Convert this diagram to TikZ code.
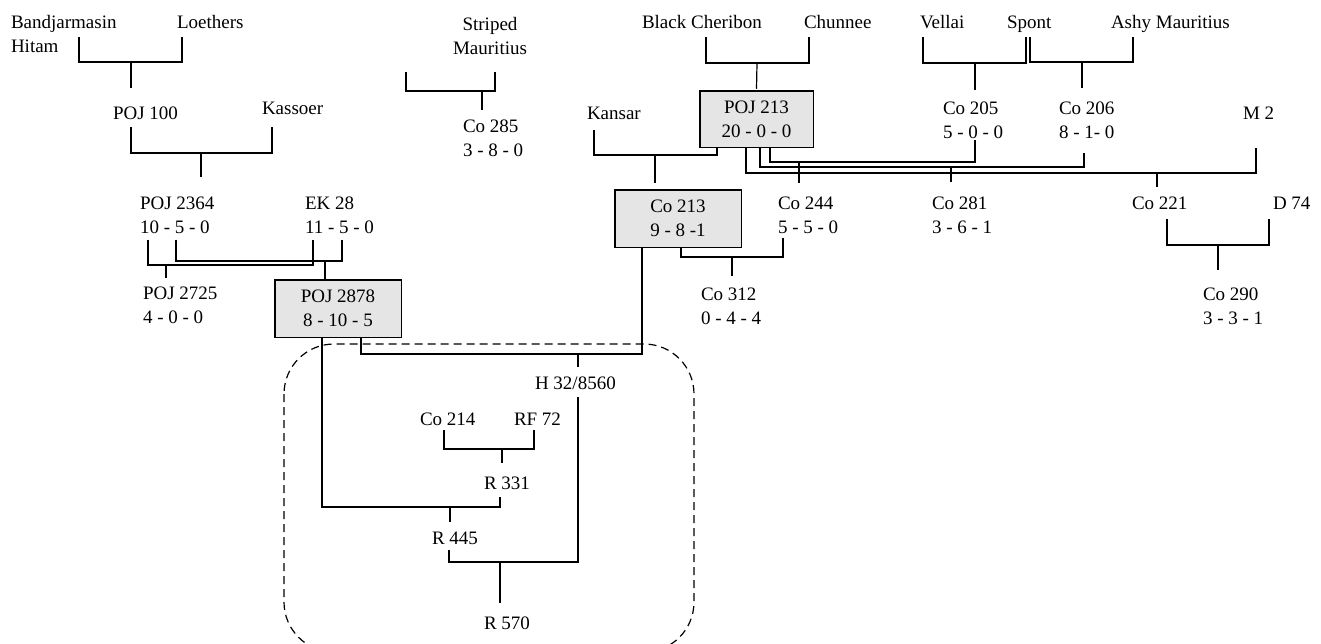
\documentclass[tikz,border=0pt]{standalone}
\usepackage{fontspec}
\setmainfont{Liberation Serif}
\usepackage{tikz}

\begin{document}
\begin{tikzpicture}[x=1pt, y=-1pt,
					font=\fontsize{19}{24}\selectfont,
					line width=1.2pt,
					name node/.style={inner sep=0pt, outer sep=0pt, anchor=west,
						text height=13pt, text depth=4pt},
					pair node/.style={inner sep=0pt, outer sep=0pt, anchor=west, align=left},
					box node/.style={draw, fill=gray!20, line width=1.5pt, inner sep=0pt,
						outer sep=0pt, align=center},
					link/.style={line width=1.2pt},
					seedling frame/.style={dash pattern=on 8pt off 5pt, line width=1.2pt,
						rounded corners=50pt}]
  \useasboundingbox (0,0) rectangle (1321,643);

  % founders
  \node[pair node] (bh) at (11,33.5) {Bandjarmasin\\Hitam};
  \node[name node] (lo) at (177,24) {Loethers};
  \node[inner sep=0pt, outer sep=0pt, align=center] (sm) at (490,35.5) {Striped\\Mauritius};
  \node[name node] (bc) at (642,24) {Black Cheribon};
  \node[name node] (ch) at (804,24) {Chunnee};
  \node[name node] (ve) at (920,24) {Vellai};
  \node[name node] (sp) at (1007,24) {Spont};
  \node[name node] (ash) at (1111,24) {Ashy Mauritius};

  % second row
  \node[name node] (p100) at (113,115) {POJ 100};
  \node[name node] (kas) at (262,110) {Kassoer};
  \node[pair node] (s285) at (463,138.5) {Co 285\\3 - 8 - 0};
  \node[name node] (kan) at (587,115) {Kansar};
  \node[box node, minimum width=113.5pt, minimum height=56.5pt] (p213) at (756.5,119) {POJ 213\\20 - 0 - 0};
  \node[pair node] (c205) at (943,120) {Co 205\\5 - 0 - 0};
  \node[pair node] (c206) at (1059,120) {Co 206\\8 - 1- 0};
  \node[name node] (m2) at (1243,115) {M 2};

  % third row
  \node[pair node] (p2364) at (140,215) {POJ 2364\\10 - 5 - 0};
  \node[pair node] (ek) at (305,215) {EK 28\\11 - 5 - 0};
  \node[box node, minimum width=126.5pt, minimum height=57.5pt] (c213) at (678,218.5) {Co 213\\9 - 8 -1};
  \node[pair node] (c244) at (778,215) {Co 244\\5 - 5 - 0};
  \node[pair node] (c281) at (932,215) {Co 281\\3 - 6 - 1};
  \node[name node] (c221) at (1132,205) {Co 221};
  \node[name node] (d74) at (1273,205) {D 74};

  % fourth row
  \node[pair node] (p2725) at (143,305.5) {POJ 2725\\4 - 0 - 0};
  \node[box node, minimum width=126.5pt, minimum height=57.5pt] (p2878) at (338,308.5) {POJ 2878\\8 - 10 - 5};
  \node[pair node] (c312) at (701,306) {Co 312\\0 - 4 - 4};
  \node[pair node] (c290) at (1203,306) {Co 290\\3 - 3 - 1};

  % seedlings
  \node[name node] (h32) at (535,385) {H 32/8560};
  \node[name node] (c214) at (420,421) {Co 214};
  \node[name node] (rf72) at (514,421) {RF 72};
  \node[name node] (r331) at (484,485) {R 331};
  \node[name node] (r445) at (432,540) {R 445};
  \node[name node] (r570) at (484,625) {R 570};

  % crossing bars
  \coordinate (x100) at (131,62);
  \coordinate (x2364) at (201,153);
  \coordinate (x2725) at (166,265);
  \coordinate (x2878) at (325,261);
  \coordinate (unk) at (406,72);
  \coordinate (x285) at (482,91);
  \coordinate (x213p) at (757,63);
  \coordinate (x213c) at (655,155);
  \coordinate (x205) at (975,63);
  \coordinate (x206) at (1082,62);
  \coordinate (x244) at (799,162);
  \coordinate (x281) at (951,167);
  \coordinate (x221) at (1157,173);
  \coordinate (x290) at (1218,245);
  \coordinate (x312) at (732,257);
  \coordinate (xh32) at (578,354);
  \coordinate (x331) at (502,449);
  \coordinate (x445) at (450,507);
  \coordinate (x570) at (500,562);

  \draw[link] ([xshift=68pt,yshift=15pt]bh.south west) |- (x100) -| ([xshift=5pt,yshift=-4.5pt]lo.south west);
  \draw[link] (x100) -- ([xshift=18pt,yshift=18.5pt]p100.north west);

  \draw[link] ([xshift=18pt,yshift=-3.5pt]p100.south west) |- (x2364) -| ([xshift=10pt,yshift=-8.5pt]kas.south west);
  \draw[link] (x2364) -- ([xshift=61pt,yshift=19.5pt]p2364.north west);

  \draw[link] ([xshift=8pt,yshift=-6.5pt]p2364.south west) |- (x2725) -| ([xshift=8pt,yshift=-6.5pt]ek.south west);
  \draw[link] (x2725) -- ([xshift=23pt,yshift=9pt]p2725.north west);

  \draw[link] ([xshift=36pt,yshift=-6.5pt]p2364.south west) |- (x2878) -| ([xshift=37pt,yshift=-6.5pt]ek.south west);
  \draw[link] (x2878) -- ([xshift=-13pt]p2878.north);

  \draw[link] (unk) |- (x285) -| ([xshift=5pt,yshift=-18pt]sm.south);
  \draw[link] (x285) -- ([xshift=19pt,yshift=10pt]s285.north west);

  \draw[link] ([xshift=64pt,yshift=-4.5pt]bc.south west) |- (x213p) -| ([xshift=5pt,yshift=-4.5pt]ch.south west);
  \draw[link] (x213p) -- ([yshift=2pt]p213.north);

  \draw[link] ([xshift=7pt,yshift=-6.5pt]kan.south west) |- (x213c) -| ([xshift=-39.5pt]p213.south);
  \draw[link] (x213c) -- ([xshift=-23pt,yshift=7pt]c213.north);

  \draw[link] ([xshift=3pt,yshift=-4.5pt]ve.south west) |- (x205) -| ([xshift=19pt,yshift=-4.5pt]sp.south west);
  \draw[link] (x205) -- ([xshift=32pt,yshift=11.5pt]c205.north west);

  \draw[link] ([xshift=23pt,yshift=-4.5pt]sp.south west) |- (x206) -| ([xshift=22pt,yshift=-4.5pt]ash.south west);
  \draw[link] (x206) -- ([xshift=23pt,yshift=13.5pt]c206.north west);

  \draw[link] ([xshift=13.5pt]p213.south) |- (x244) -| ([xshift=32pt,yshift=-1.5pt]c205.south west);
  \draw[link] (x244) -- ([xshift=21pt,yshift=13.5pt]c244.north west);

  \draw[link] ([xshift=3.5pt]p213.south) |- (x281) -| ([xshift=25pt,yshift=-14.5pt]c206.south west);
  \draw[link] (x281) -- ([xshift=19pt,yshift=14.5pt]c281.north west);

  \draw[link] ([xshift=-10.5pt]p213.south) |- (x221) -| ([xshift=13pt,yshift=-24.5pt]m2.south west);
  \draw[link] (x221) -- ([xshift=25pt,yshift=9.5pt]c221.north west);

  \draw[link] ([xshift=35pt,yshift=-5.5pt]c221.south west) |- (x290) -| ([xshift=-4pt,yshift=-5.5pt]d74.south west);
  \draw[link] (x290) -- ([xshift=15pt,yshift=17.5pt]c290.north west);

  \draw[link] ([xshift=3pt]c213.south) |- (x312) -| ([xshift=5pt,yshift=-4.5pt]c244.south west);
  \draw[link] (x312) -- ([xshift=31pt,yshift=11.5pt]c312.north west);

  \draw[link] ([xshift=23pt]p2878.south) |- (xh32) -| ([xshift=-36pt]c213.south);
  \draw[link] (xh32) -- ([xshift=43pt,yshift=9.5pt]h32.north west);

  \draw[link] ([xshift=24pt,yshift=-0.5pt]c214.south west) |- (x331) -| ([xshift=20pt,yshift=-0.5pt]rf72.south west);
  \draw[link] (x331) -- ([xshift=18pt,yshift=13.5pt]r331.north west);

  \draw[link] ([xshift=-16pt]p2878.south) |- (x445) -| ([xshift=16pt,yshift=-3.5pt]r331.south west);
  \draw[link] (x445) -- ([xshift=18pt,yshift=9.5pt]r445.north west);

  \draw[link] ([xshift=17pt,yshift=-1.5pt]r445.south west) |- (x570) -| ([xshift=43pt,yshift=-3.5pt]h32.south west);
  \draw[link] (x570) -- ([xshift=16pt,yshift=13.5pt]r570.north west);

  % seedling group
  \draw[seedling frame] (284,344) rectangle (694,652);
\end{tikzpicture}
\end{document}
